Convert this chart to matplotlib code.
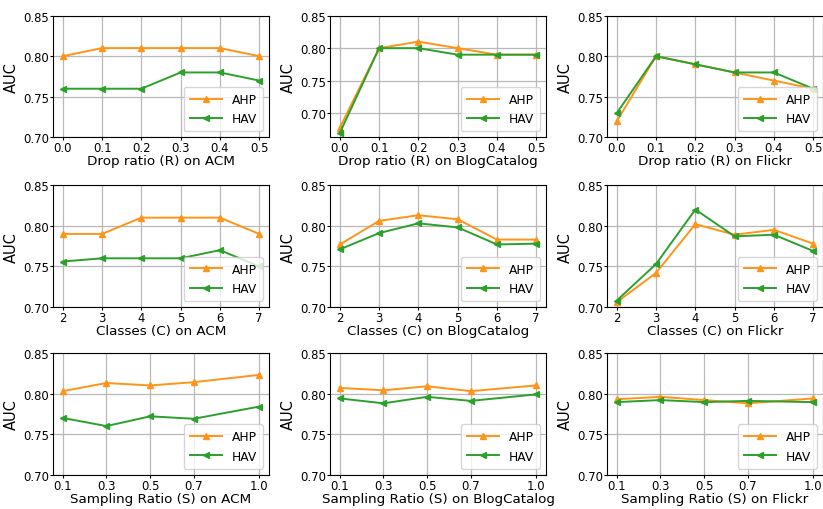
import matplotlib
matplotlib.use("Agg")
import matplotlib.pyplot as plt

# x values
drop_ratio = [0.0, 0.1, 0.2, 0.3, 0.4, 0.5]
classes = [2, 3, 4, 5, 6, 7]
sampling = [0.1, 0.3, 0.5, 0.7, 1.0]

# drop ratio
drop_acm_ahp = [0.80, 0.81, 0.81, 0.81, 0.81, 0.80]
drop_acm_hav = [0.76, 0.76, 0.76, 0.78, 0.78, 0.77]
drop_blog_ahp = [0.678, 0.80, 0.81, 0.80, 0.79, 0.79]
drop_blog_hav = [0.670, 0.80, 0.80, 0.79, 0.79, 0.79]
drop_flickr_ahp = [0.72, 0.80, 0.79, 0.78, 0.77, 0.76]
drop_flickr_hav = [0.73, 0.80, 0.79, 0.78, 0.78, 0.76]

# classes
cls_acm_ahp = [0.79, 0.79, 0.81, 0.81, 0.81, 0.79]
cls_acm_hav = [0.756, 0.76, 0.76, 0.76, 0.77, 0.75]
cls_blog_ahp = [0.777, 0.806, 0.813, 0.808, 0.783, 0.783]
cls_blog_hav = [0.771, 0.791, 0.803, 0.798, 0.777, 0.778]
cls_flickr_ahp = [0.706, 0.742, 0.802, 0.789, 0.795, 0.778]
cls_flickr_hav = [0.708, 0.753, 0.820, 0.787, 0.789, 0.769]

# sampling ratio
samp_acm_ahp = [0.803, 0.813, 0.810, 0.814, 0.823]
samp_acm_hav = [0.770, 0.760, 0.772, 0.769, 0.784]
samp_blog_ahp = [0.807, 0.804, 0.809, 0.803, 0.810]
samp_blog_hav = [0.794, 0.788, 0.796, 0.791, 0.799]
samp_flickr_ahp = [0.793, 0.796, 0.792, 0.788, 0.794]
samp_flickr_hav = [0.7895, 0.792, 0.7895, 0.791, 0.7895]

datasets = ["ACM", "BlogCatalog", "Flickr"]

rows = [
    (drop_ratio, "Drop ratio (R) on {}", [0.0, 0.1, 0.2, 0.3, 0.4, 0.5], ["0.0", "0.1", "0.2", "0.3", "0.4", "0.5"],
     [(drop_acm_ahp, drop_acm_hav), (drop_blog_ahp, drop_blog_hav), (drop_flickr_ahp, drop_flickr_hav)]),
    (classes, "Classes (C) on {}", classes, [str(c) for c in classes],
     [(cls_acm_ahp, cls_acm_hav), (cls_blog_ahp, cls_blog_hav), (cls_flickr_ahp, cls_flickr_hav)]),
    (sampling, "Sampling Ratio (S) on {}", sampling, ["0.1", "0.3", "0.5", "0.7", "1.0"],
     [(samp_acm_ahp, samp_acm_hav), (samp_blog_ahp, samp_blog_hav), (samp_flickr_ahp, samp_flickr_hav)]),
]

orange = "#ff9419"
green = "#2ca02c"

col_left = [0.0644, 0.401, 0.7375]
row_bottom = [0.7285, 0.396, 0.067]
ax_w, ax_h = 0.2625, 0.239

fig = plt.figure(figsize=(8.23, 5.10), dpi=100)

for r, (x, xlabel, ticks, ticklabels, series) in enumerate(rows):
    for c, name in enumerate(datasets):
        ax = fig.add_axes([col_left[c], row_bottom[r], ax_w, ax_h])
        ahp, hav = series[c]
        ax.plot(x, ahp, color=orange, marker="^", markersize=4.5, linewidth=1.4, label="AHP")
        ax.plot(x, hav, color=green, marker="<", markersize=4.5, linewidth=1.4, label="HAV")
        if r == 0 and c == 1:
            ax.set_ylim(0.663, 0.85)
        else:
            ax.set_ylim(0.70, 0.85)
        ax.set_yticks([0.70, 0.75, 0.80, 0.85])
        ax.set_xticks(ticks)
        ax.set_xticklabels(ticklabels)
        ax.tick_params(labelsize=8.4, length=2, pad=0.8)
        ax.grid(True, color="#b8b8b8", linewidth=0.9)
        ax.set_axisbelow(True)
        ax.set_ylabel("AUC", fontsize=10.5, labelpad=3)
        ax.set_xlabel(xlabel.format(name), fontsize=9.7, labelpad=0)
        ax.legend(loc="lower right", fontsize=8.8, handlelength=2.6, borderpad=0.5, labelspacing=0.5)

fig.savefig("out.png", dpi=100)
